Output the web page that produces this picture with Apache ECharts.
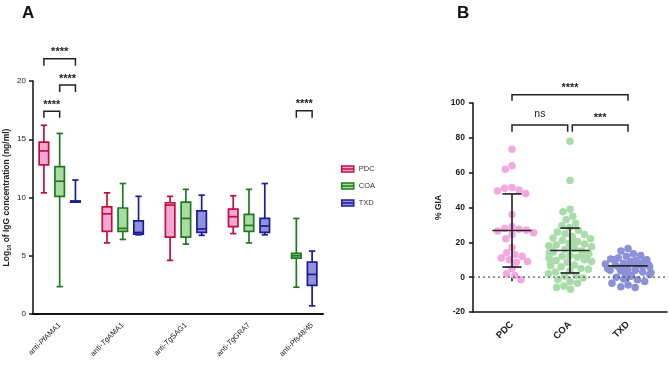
<!DOCTYPE html>
<html>
<head>
<meta charset="utf-8">
<script src="https://cdn.jsdelivr.net/npm/echarts@6/dist/echarts.min.js"></script>
<style>
html, body {margin: 0; padding: 0; background: #fff;}
#main {width: 669px; height: 368px;}
</style>
</head>
<body>
<div id="main"></div>
<script>
// ---- panel A: IgG levels per antigen, box = [min, q1, median, q3, max]
var antigens = ['anti-PfAMA1', 'anti-TgAMA1', 'anti-TgSAG1', 'anti-TgGRA7', 'anti-Pfs48/45'];
var groups = ['PDC', 'COA', 'TXD'];
var pdcBox = [[10.4, 12.8, 14.0, 14.75, 16.2], [6.1, 7.1, 8.6, 9.2, 10.4], [4.6, 6.6, 9.35, 9.55, 10.1], [6.9, 7.5, 8.35, 9.0, 10.15], null];
var coaBox = [[2.35, 10.1, 11.4, 12.65, 15.5], [6.4, 7.1, 7.35, 9.1, 11.2], [6.0, 6.6, 8.2, 9.6, 10.7], [6.1, 7.1, 7.6, 8.55, 10.7], [2.3, 4.8, 5.0, 5.2, 8.2]];
var txdBox = [[9.6, 9.6, 9.65, 9.7, 11.5], [6.8, 6.85, 7.0, 8.0, 10.1], [6.75, 7.0, 7.3, 8.85, 10.2], [6.8, 7.0, 7.55, 8.2, 11.2], [0.7, 2.45, 3.4, 4.45, 5.4]];
var yTicksA = [0, 5, 10, 15, 20];
// [antigen, group from, group to, bracket top, leg bottom, label]
var sigA = [[0, 'PDC', 'COA', 17.4, 16.85, '****'], [0, 'COA', 'TXD', 19.65, 19.05, '****'], [0, 'PDC', 'TXD', 21.9, 21.3, '****'], [4, 'COA', 'TXD', 17.45, 16.85, '****']];

// ---- panel B: % GIA
var pdcGia = [73.5, 64, 62, 51.5, 51, 50, 49.5, 48, 36, 29, 28, 27.5, 27, 26.5, 25.5, 24.5, 22, 17, 14, 13, 12, 11, 10, 9, 8.5, 5, 2, 1, -1.5];
var coaGia = [78, 55.5, 39, 37.5, 35, 33, 31, 29.5, 28.5, 27, 26, 25, 24.5, 23.5, 22.5, 22, 21, 20.5, 20, 19.5, 19, 18.5, 18, 17.5, 17, 16.5, 16, 15.5, 15, 14.5, 14, 13.5, 13, 12.5, 12, 11.5, 11, 10.5, 10, 9.5, 9, 8.5, 8, 7, 6.5, 6, 5, 4.5, 3.5, 3, 2, 1, 0.5, -0.5, -1.5, -2.5, -3.5, -5, -6, -7];
var txdGia = [16.5, 15, 13.5, 12.5, 12, 11, 10.5, 10, 10, 9.5, 9, 9, 8.5, 8, 8, 7.5, 7.5, 7, 7, 6.5, 6.5, 6, 6, 5.5, 5.5, 5, 5, 4.5, 4, 4, 3.5, 3, 2.5, 2, 1.5, 1, 0.5, 0, -1, -1.5, -2.5, -3.5, -4.5, -5.5, -6];
var giaMean = [26.8, 15.3, 6.5];
var giaSd = [21.0, 12.9, 0];
var yTicksB = [-20, 0, 20, 40, 60, 80, 100];
// [from cat, shift, to cat, shift, bracket top, leg bottom, label]
var sigB = [[0, 0, 2, 0, 104.8, 101.3, '****'], [0, 0, 1, -0.04, 87.4, 83.5, 'ns'], [1, 0.04, 2, 0, 87.4, 83.5, '***']];

var fills = ['#f5a6d8', '#a9dca2', '#8f92d8'];
var strokes = ['#bf1238', '#1f7a1f', '#1c1c9a'];
var dots = ['#f2a9e0', '#a8dca8', '#8c90d8'];
var boxes = [pdcBox, coaBox, txdBox];

// boxes of one antigen sit side by side, missing groups close up
function slotOf(g, name) {
  var k = 0;
  for (var s = 0; s < groups.length; s++) {
    if (groups[s] === name) return g * 4 + k;
    if (boxes[s][g]) k++;
  }
}
var slots = [];
for (var i = 0; i < 18; i++) slots.push('');
antigens.forEach(function (a, g) { slots[g * 4 + 1] = a; });

function richName(v) {
  var m = /^anti-(Pf|Tg)(.*)$/.exec(v);
  if (!m) return v;
  return '{n|anti-}{i|' + m[1] + '}{n|' + m[2] + '}';
}

function boxItem(fill, stroke) {
  return function (params, api) {
    var x = api.value(0);
    var lo = api.coord([x, api.value(1)]);
    var q1 = api.coord([x, api.value(2)]);
    var md = api.coord([x, api.value(3)]);
    var q3 = api.coord([x, api.value(4)]);
    var hi = api.coord([x, api.value(5)]);
    var band = api.size([1, 0])[0];
    var bw = band * 0.6, cw = band * 0.4, cx = md[0];
    var ls = {stroke: stroke, lineWidth: 1.7};
    return {type: 'group', children: [
      {type: 'line', shape: {x1: cx, y1: hi[1], x2: cx, y2: lo[1]}, style: ls},
      {type: 'line', shape: {x1: cx - cw / 2, y1: hi[1], x2: cx + cw / 2, y2: hi[1]}, style: ls},
      {type: 'line', shape: {x1: cx - cw / 2, y1: lo[1], x2: cx + cw / 2, y2: lo[1]}, style: ls},
      {type: 'rect', shape: {x: cx - bw / 2, y: q3[1], width: bw, height: Math.max(q1[1] - q3[1], 1)}, style: {fill: fill, stroke: stroke, lineWidth: 1.7}},
      {type: 'line', shape: {x1: cx - bw / 2, y1: md[1], x2: cx + bw / 2, y2: md[1]}, style: ls}
    ]};
  };
}

function bracket(lines, fontWeight, size) {
  return function (params, api) {
    var row = lines[params.dataIndex];
    var band = api.size([1, 0])[0];
    var a = api.coord([api.value(0), api.value(2)]);
    var b = api.coord([api.value(1), api.value(2)]);
    var leg = api.coord([api.value(0), api.value(3)]);
    var x1 = a[0] + (row.s1 || 0) * band, x2 = b[0] + (row.s2 || 0) * band;
    var isNs = row.t === 'ns';
    return {type: 'group', children: [
      {type: 'polyline', shape: {points: [[x1, leg[1]], [x1, a[1]], [x2, a[1]], [x2, leg[1]]]}, style: {stroke: '#222', lineWidth: 1.5, fill: null}},
      {type: 'text', x: (x1 + x2) / 2, y: a[1] - (isNs ? 5 : 1), style: {text: row.t, fill: '#222', align: 'center', verticalAlign: 'bottom', fontSize: isNs ? 10.5 : size, fontWeight: isNs ? 'normal' : fontWeight, fontFamily: 'Liberation Sans'}}
    ]};
  };
}

var sigARows = sigA.map(function (r) { return {v: [slotOf(r[0], r[1]), slotOf(r[0], r[2]), r[3], r[4]], t: r[5]}; });
var sigBRows = sigB.map(function (r) { return {v: [r[0], r[2], r[4], r[5]], t: r[6], s1: r[1], s2: r[3]}; });

var series = [];
groups.forEach(function (name, s) {
  var data = [];
  boxes[s].forEach(function (b, g) { if (b) data.push([slotOf(g, name)].concat(b)); });
  series.push({
    name: name, type: 'custom', xAxisIndex: 0, yAxisIndex: 0, clip: false,
    itemStyle: {color: fills[s], borderColor: strokes[s]},
    renderItem: boxItem(fills[s], strokes[s]),
    encode: {x: 0, y: [1, 2, 3, 4, 5]},
    data: data
  });
});
series.push({
  type: 'custom', xAxisIndex: 0, yAxisIndex: 0, clip: false, silent: true,
  renderItem: bracket(sigARows, 'bold', 11),
  encode: {x: [0, 1], y: [2, 3]},
  data: sigARows.map(function (r) { return r.v; })
});
// zero reference line across the whole B axis
series.push({
  type: 'line', xAxisIndex: 3, yAxisIndex: 3, symbol: 'none', silent: true,
  lineStyle: {color: '#555', width: 1.3, type: [2, 3]},
  data: [[0, 0], [1, 0]]
});
[pdcGia, coaGia, txdGia].forEach(function (vals, s) {
  series.push({
    name: groups[s] + ' GIA', type: 'scatter', xAxisIndex: 2, yAxisIndex: 2,
    symbolSize: 7.5, itemStyle: {color: dots[s], opacity: 1},
    data: vals.map(function (v) { return [s, v]; })
  });
});
series.push({
  type: 'custom', xAxisIndex: 2, yAxisIndex: 2, clip: false, silent: true, z: 5,
  renderItem: function (params, api) {
    var x = api.value(0), m = api.value(1), sd = api.value(2);
    var pm = api.coord([x, m]);
    var band = api.size([1, 0])[0];
    var mw = band * 0.68, cw = band * 0.33, cx = pm[0];
    var ls = {stroke: '#2a2a2a', lineWidth: 1.7};
    var kids = [{type: 'line', shape: {x1: cx - mw / 2, y1: pm[1], x2: cx + mw / 2, y2: pm[1]}, style: ls}];
    if (sd > 0) {
      var up = api.coord([x, m + sd]), dn = api.coord([x, m - sd]);
      kids.push({type: 'line', shape: {x1: cx, y1: up[1], x2: cx, y2: dn[1]}, style: ls});
      kids.push({type: 'line', shape: {x1: cx - cw / 2, y1: up[1], x2: cx + cw / 2, y2: up[1]}, style: ls});
      kids.push({type: 'line', shape: {x1: cx - cw / 2, y1: dn[1], x2: cx + cw / 2, y2: dn[1]}, style: ls});
    }
    return {type: 'group', children: kids};
  },
  encode: {x: 0, y: 1},
  data: giaMean.map(function (m, i) { return [i, m, giaSd[i]]; })
});
series.push({
  type: 'custom', xAxisIndex: 2, yAxisIndex: 2, clip: false, silent: true,
  renderItem: bracket(sigBRows, 'bold', 11),
  encode: {x: [0, 1], y: [2, 3]},
  data: sigBRows.map(function (r) { return r.v; })
});

var myChart = echarts.init(document.getElementById('main'));
var option = {
  animation: false,
  textStyle: {fontFamily: 'Liberation Sans'},
  title: [
    {text: 'A', left: 17, top: 0, textStyle: {fontSize: 17, fontWeight: 'bold', color: '#111'}},
    {text: 'B', left: 452, top: 0, textStyle: {fontSize: 17, fontWeight: 'bold', color: '#111'}}
  ],
  legend: {
    orient: 'vertical', left: 336, top: 160, itemWidth: 12, itemHeight: 6, itemGap: 9,
    textStyle: {fontSize: 7.5, color: '#333'},
    data: groups.map(function (g, s) {
      return {name: g, icon: 'path://M0,0H24V12H0Z M0,6H24', itemStyle: {color: fills[s], borderColor: strokes[s], borderWidth: 1.5}};
    })
  },
  grid: [
    {left: 36, width: 284, top: 81, height: 233},
    {left: 33, width: 290, top: 81, height: 233},
    {left: 483, width: 174, top: 103, height: 209},
    {left: 473, width: 194, top: 103, height: 209}
  ],
  xAxis: [
    {type: 'category', gridIndex: 0, data: slots,
      axisLine: {show: false}, axisTick: {show: false},
      axisLabel: {interval: 0, rotate: 45, margin: 10, fontSize: 7.5, color: '#222', formatter: richName,
        rich: {n: {fontSize: 7.5, color: '#222'}, i: {fontSize: 7.5, color: '#222', fontStyle: 'italic'}}}},
    {type: 'value', gridIndex: 1, min: 0, max: 1,
      axisLine: {onZero: false, lineStyle: {color: '#111', width: 2}}, axisTick: {show: false}, axisLabel: {show: false}, splitLine: {show: false}},
    {type: 'category', gridIndex: 2, data: groups,
      jitter: 46, jitterOverlap: false, jitterMargin: 0,
      axisLine: {show: false},
      axisTick: {show: true, alignWithLabel: true, length: 4, lineStyle: {color: '#111', width: 1.5}},
      axisLabel: {rotate: 45, margin: 11, fontSize: 9.5, fontWeight: 'bold', color: '#222'}},
    {type: 'value', gridIndex: 3, min: 0, max: 1,
      axisLine: {onZero: false, lineStyle: {color: '#111', width: 1.5}}, axisTick: {show: false}, axisLabel: {show: false}, splitLine: {show: false}}
  ],
  yAxis: [
    {type: 'value', gridIndex: 0, min: yTicksA[0], max: yTicksA[yTicksA.length - 1], interval: 5, offset: 3,
      name: 'Log{sub|10} of IgG concentration (ng/ml)', nameLocation: 'middle', nameGap: 21,
      nameTextStyle: {fontSize: 8.5, fontWeight: 'bold', color: '#222', rich: {sub: {fontSize: 5.5, fontWeight: 'bold', color: '#222', padding: [5, 0, 0, 0]}}},
      axisLine: {show: true, lineStyle: {color: '#111', width: 1.5}},
      axisTick: {show: true, length: 4, lineStyle: {color: '#111', width: 1.5}},
      axisLabel: {fontSize: 8, color: '#222', margin: 7},
      splitLine: {show: false}},
    {type: 'value', gridIndex: 1, show: false, min: 0, max: 20},
    {type: 'value', gridIndex: 2, min: yTicksB[0], max: yTicksB[yTicksB.length - 1], interval: 20, offset: 10,
      name: '% GIA', nameLocation: 'middle', nameGap: 30,
      nameTextStyle: {fontSize: 8.5, fontWeight: 'bold', color: '#222'},
      axisLine: {show: true, lineStyle: {color: '#111', width: 1.5}},
      axisTick: {show: true, length: 4, lineStyle: {color: '#111', width: 1.5}},
      axisLabel: {fontSize: 8.5, fontWeight: 'bold', color: '#222', margin: 8},
      splitLine: {show: false}},
    {type: 'value', gridIndex: 3, show: false, min: -20, max: 100}
  ],
  series: series
};
myChart.setOption(option);
</script>
</body>
</html>
